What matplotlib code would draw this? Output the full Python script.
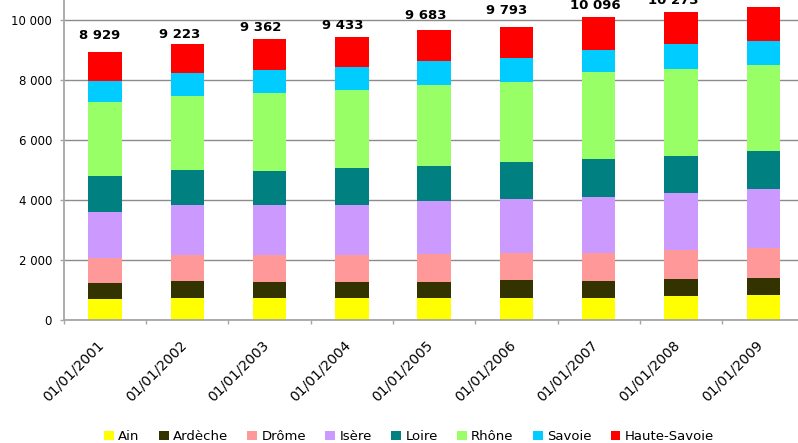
import matplotlib
matplotlib.use("Agg")
import matplotlib.pyplot as plt
import numpy as np

# Dates shown on the category axis
dates = ["01/01/2001", "01/01/2002", "01/01/2003", "01/01/2004", "01/01/2005",
         "01/01/2006", "01/01/2007", "01/01/2008", "01/01/2009"]

# Values per département
ain = [710, 745, 745, 745, 745, 745, 745, 810, 845]
ardeche = [535, 555, 535, 535, 535, 600, 565, 565, 565]
drome = [845, 875, 900, 900, 940, 900, 925, 975, 1010]
isere = [1535, 1675, 1675, 1675, 1755, 1800, 1875, 1890, 1955]
loire = [1200, 1150, 1125, 1225, 1165, 1235, 1260, 1235, 1265]
rhone = [2455, 2485, 2600, 2600, 2700, 2665, 2905, 2900, 2870]
savoie = [700, 755, 765, 765, 800, 800, 735, 835, 800]
totals = [8929, 9223, 9362, 9433, 9683, 9793, 10096, 10273, 10430]

series_names = ["Ain", "Ardèche", "Drôme", "Isère", "Loire", "Rhône", "Savoie", "Haute-Savoie"]
colors = ["#FFFF00", "#333300", "#FF9999", "#CC99FF", "#008080", "#99FF66", "#00CCFF", "#FF0000"]

lower = [ain, ardeche, drome, isere, loire, rhone, savoie]
haute_savoie = list(np.array(totals) - np.sum(np.array(lower), axis=0))
series = lower + [haute_savoie]

# Manual nudges (pixels) of the total labels relative to the bar top
label_dx = [-5.6, -7.8, -9.1, -8.9, -8.0, -10.0, -3.1, -7.7, -8.0]
label_lift = [17, 9, 12.4, 11.8, 14.8, 16.5, 11.6, 12, 19]

W, H, DPI = 798, 443, 100
fig = plt.figure(figsize=(W / DPI, H / DPI), dpi=DPI)

left_px, bottom_px = 63.8, 320.3
cat_px = 82.3
px_per_unit = 30.0 / 1000
ymax = 11000
ax_w = cat_px * len(dates)
ax_h = ymax * px_per_unit
ax = fig.add_axes([left_px / W, (H - bottom_px) / H, ax_w / W, ax_h / H])

x = np.arange(len(dates))
bottom = np.zeros(len(dates))
bar_w = 0.405
for name, vals, col in zip(series_names, series, colors):
    ax.bar(x, vals, bar_w, bottom=bottom, color=col, label=name, zorder=3, linewidth=0)
    bottom += np.array(vals)

def fmt(v):
    return f"{int(round(v)):,}".replace(",", " ")

pt = 72 / DPI
for i, t in enumerate(totals):
    ax.annotate(fmt(t), (x[i], bottom[i]), xytext=(label_dx[i] * pt, label_lift[i] * pt),
                textcoords="offset points", ha="center", va="center",
                fontsize=9.5, fontweight="bold", color="black", zorder=5,
                annotation_clip=False)

ax.set_xlim(-0.5, len(dates) - 0.5)
ax.set_ylim(0, ymax)

grid_col = "#8c8c8c"
ax.set_yticks(np.arange(0, 10001, 2000))
ax.set_yticklabels([fmt(v) for v in np.arange(0, 10001, 2000)])
ax.yaxis.grid(True, color=grid_col, linewidth=1.0, zorder=0)
ax.set_axisbelow(True)

ax.set_xticks(x - 0.04)
ax.set_xticklabels(dates, rotation=45, ha="right", va="center", rotation_mode="anchor")
ax.set_xticks(np.arange(-0.5, len(dates) + 0.5, 1), minor=True)
ax.tick_params(axis="x", which="major", length=0, pad=16.5, labelsize=10)
ax.tick_params(axis="x", which="minor", length=3, width=1, color="#a6a6a6", direction="out")
ax.tick_params(axis="y", length=3, width=1, color="#a6a6a6", pad=5.5, labelsize=8.5)

for side in ["top", "right"]:
    ax.spines[side].set_visible(False)
for side in ["left", "bottom"]:
    ax.spines[side].set_color("#a6a6a6")
    ax.spines[side].set_linewidth(1.3)
    ax.spines[side].set_zorder(4)

fig.legend(loc="center", bbox_to_anchor=(409 / W, 1 - 436.5 / H), ncol=8, frameon=False,
           fontsize=9.5, handlelength=0.75, handleheight=0.75, handletextpad=0.33,
           columnspacing=1.45, borderaxespad=0, borderpad=0)

fig.savefig("out.png", dpi=DPI)
